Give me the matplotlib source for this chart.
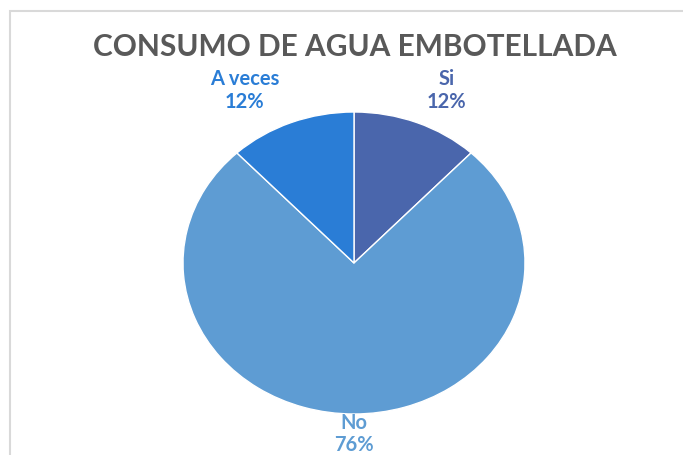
import matplotlib.pyplot as plt
from matplotlib.patches import Rectangle

plt.rcParams['font.family'] = ['Lato', 'DejaVu Sans']

categories = ['Si', 'No', 'A veces']
percentages = [12, 76, 12]
slice_colors = ['#4a66ac', '#5e9cd3', '#2a7dd6']
label_colors = ['#4a66ac', '#5e9cd3', '#2a7dd6']
# label centres in pie units (radius = 1)
label_pos = [(0.54, 1.15), (0.0, -1.125), (-0.64, 1.15)]

fig = plt.figure(figsize=(6.83, 4.56), dpi=100)
fig.patch.set_facecolor('white')

# chart frame (only left/top edges visible in the crop)
fig.add_artist(Rectangle((10 / 683, -0.1), 1.2, (456 - 12) / 456 + 0.1,
                         transform=fig.transFigure, fill=False,
                         edgecolor='#d9d9d9', linewidth=1.5))

ax = fig.add_axes([183 / 683, 41 / 456, 342 / 683, 302 / 456])
ax.pie(percentages, colors=slice_colors, startangle=90, counterclock=False,
       wedgeprops=dict(edgecolor='white', linewidth=1))
ax.set_aspect('auto')
ax.set_xlim(-1, 1)
ax.set_ylim(-1, 1)

for name, pct, (x, y), col in zip(categories, percentages, label_pos, label_colors):
    ax.text(x, y, f"{name}\n{pct}%", ha='center', va='center', color=col,
            fontsize=14.5, fontweight='bold', linespacing=1.15, clip_on=False)

fig.text(355 / 683, 1 - 47 / 456, 'CONSUMO DE AGUA EMBOTELLADA', ha='center',
         va='center', fontsize=21.5, fontweight='bold', color='#595959')

fig.savefig('out.png', dpi=100)
